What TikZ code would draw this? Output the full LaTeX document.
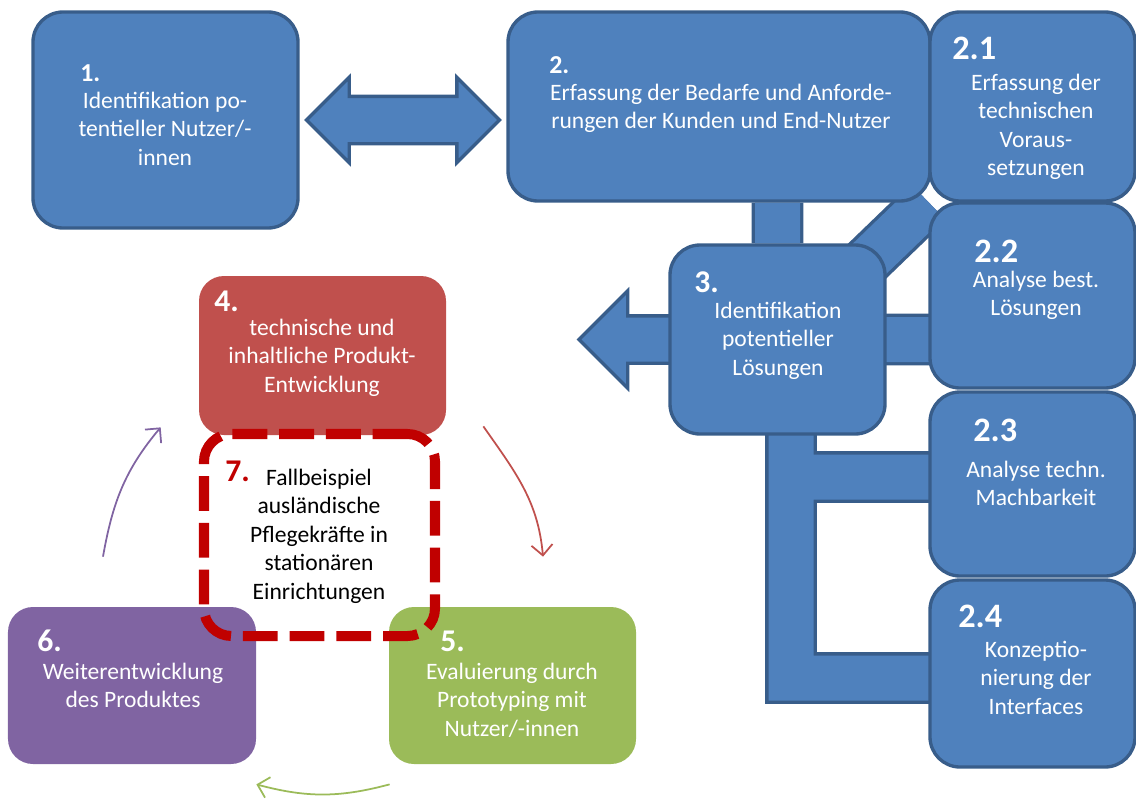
\documentclass[tikz,border=0pt]{standalone}
\usepackage{fontspec}
\setmainfont{Carlito}
\usepackage{tikz}
\usetikzlibrary{shapes.arrows, arrows.meta, positioning, calc, backgrounds}

\definecolor{stepblue}{HTML}{4F81BD}
\definecolor{stepline}{HTML}{385D8A}
\definecolor{stepred}{HTML}{C0504D}
\definecolor{stepgreen}{HTML}{9BBB59}
\definecolor{steppurple}{HTML}{8064A2}
\definecolor{caseRed}{HTML}{C00000}

\begin{document}
\begin{tikzpicture}[
    phase/.style={rectangle, rounded corners=0.6cm, draw=stepline, line width=1.9pt, fill=stepblue, inner sep=0pt},
    subphase/.style={phase, minimum width=4.1cm},
    stage/.style={rectangle, rounded corners=0.5cm, inner sep=0pt, minimum width=4.94cm, minimum height=3.14cm},
    num/.style={anchor=base west, inner sep=0pt, text=white, font=\fontsize{19.5}{20}\selectfont\bfseries},
    smallnum/.style={num, font=\fontsize{14.7}{15}\selectfont\bfseries},
    midnum/.style={num, font=\fontsize{18}{18}\selectfont\bfseries},
    desc/.style={anchor=base, inner sep=0pt, align=center, text=white, font=\fontsize{13.4}{16.2}\selectfont},
    fatarrow/.style={draw=stepline, line width=1.9pt, fill=stepblue, inner xsep=0pt},
    bar/.style={draw=stepline, line width=1.9pt, double=stepblue, double distance=0.9cm},
    flow/.style={line width=1pt, -{Straight Barb[length=6pt, width=12pt]}}
]
\useasboundingbox (0,0) rectangle (22.72,-15.96);

% Blue process boxes
\node[phase, minimum width=5.3cm, minimum height=4.32cm] (b1) at (3.31,-2.4) {};
\node[phase, minimum width=8.44cm, minimum height=3.78cm] (b2) at (14.38,-2.13) {};
\node[subphase, minimum height=3.78cm] (b21) at (20.65,-2.13) {};
\node[subphase, minimum height=3.7cm] (b22) at (20.65,-5.91) {};
\node[subphase, minimum height=3.68cm] (b23) at (20.65,-9.68) {};
\node[subphase, minimum height=3.74cm] (b24) at (20.65,-13.47) {};
\node[phase, minimum width=4.3cm, minimum height=3.78cm] (b3) at (15.55,-6.79) {};

% Connecting bars behind the boxes
\coordinate (lx) at (15.82,0);
\coordinate (j12) at ($(b21.south west)!0.5!(b22.north west)$);
\begin{scope}[on background layer]
\draw[bar] (b3.north) -- (b3.north |- b2.south)
    (j12) -- ++(-1.7,-1.64)
    (b3.center) -- (b3.center -| b22.center)
    ($(lx |- b23.center)+(0,0.14)$) -- ($(b23.center)+(0,0.14)$)
    (lx |- b3.center) |- ($(b24.center)+(0,-0.09)$);
\node[fatarrow, single arrow, shape border rotate=180, minimum height=2.2cm, inner ysep=0.44cm,
    single arrow head extend=0.5cm, single arrow tip angle=90] (out3) at ($(b3.west)+(-0.45,0)$) {};
\end{scope}

% Double arrow between 1 and 2
\node[fatarrow, double arrow, minimum height=3.86cm, inner ysep=0.44cm,
    double arrow head extend=0.38cm, double arrow tip angle=90] (link12) at ($(b1.east)!0.5!(b1.east -| b2.west)$) {};

% Development cycle
\node[stage, fill=stepred, minimum width=4.94cm, minimum height=3.18cm] (b4) at (6.45,-7.11) {};
\node[stage, fill=stepgreen] (b5) at (10.25,-13.71) {};
\node[stage, fill=steppurple, minimum width=4.96cm] (b6) at (2.64,-13.71) {};
\node[draw=caseRed, line width=5.7pt, dash pattern=on 19.8pt off 6.8pt, rounded corners=0.55cm,
    minimum width=4.62cm, minimum height=4.04cm] (b7) at (6.39,-10.7) {};

\draw[flow, stepred] ([shift={(0.74,0.18)}]b4.south east) to[out=-55, in=95] ([shift={(0.61,1.0)}]b5.north);
\draw[flow, stepgreen] ([shift={(0.02,-0.4)}]b5.south west) to[out=-165, in=-15] ([shift={(0,-0.4)}]b6.south east);
\draw[flow, steppurple] ([shift={(-0.58,1.0)}]b6.north) to[out=80, in=-130] ([shift={(-0.76,0.16)}]b4.south west);

% Labels (desc nodes sit on the baseline of their last line)
\node[smallnum] (n1) at (1.6,-1.62) {1.};
\node[desc] (t1) at (3.3,-3.3) {Identifikation po-\\tentieller Nutzer/-\\innen};
\node[smallnum] (n2) at (10.98,-1.46) {2.};
\node[desc] (t2) at (14.42,-2.57) {Erfassung der Bedarfe und Anforde-\\rungen der Kunden und End-Nutzer};
\node[num] (n21) at (19.04,-1.18) {2.1};
\node[desc] (t21) at (20.72,-3.51) {Erfassung der\\technischen\\Voraus-\\setzungen};
\node[num] (n22) at (19.48,-5.24) {2.2};
\node[desc] (t22) at (20.72,-6.31) {Analyse best.\\Lösungen};
\node[num] (n23) at (19.46,-8.82) {2.3};
\node[desc] (t23) at (20.72,-10.11) {Analyse techn.\\Machbarkeit};
\node[num] (n24) at (19.16,-12.54) {2.4};
\node[desc] (t24) at (20.72,-14.28) {Konzeptio-\\nierung der\\Interfaces};
\node[midnum] (n3) at (13.88,-5.84) {3.};
\node[desc] (t3) at (15.56,-7.5) {Identifikation\\potentieller\\Lösungen};
\node[midnum] (n4) at (4.28,-6.22) {4.};
\node[desc] (t4) at (6.44,-7.84) {technische und\\inhaltliche Produkt-\\Entwicklung};
\node[midnum, text=caseRed] (n7) at (4.5,-9.62) {7.};
\node[desc, text=black] (t7) at (6.38,-11.98) {Fallbeispiel\\ausländische\\Pflegekräfte in\\stationären\\Einrichtungen};
\node[midnum] (n6) at (0.74,-13.02) {6.};
\node[desc] (t6) at (2.66,-14.15) {Weiterentwicklung\\des Produktes};
\node[midnum] (n5) at (8.8,-13.02) {5.};
\node[desc] (t5) at (10.24,-14.72) {Evaluierung durch\\Prototyping mit\\Nutzer/-innen};
\end{tikzpicture}
\end{document}
